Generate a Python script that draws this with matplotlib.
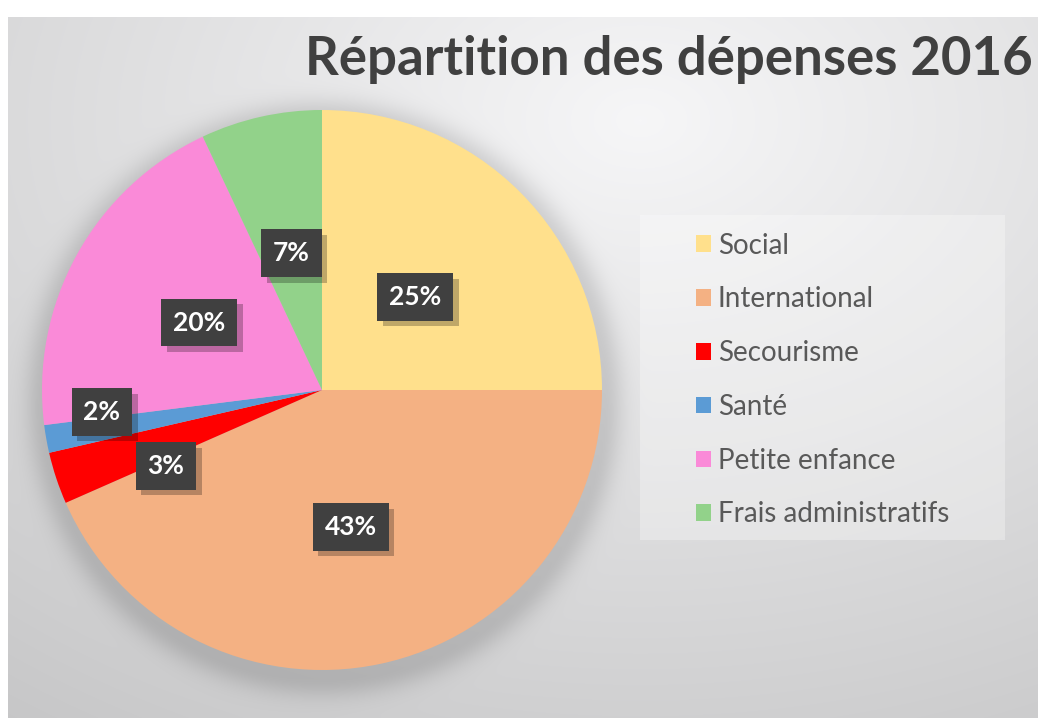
import numpy as np
import matplotlib
matplotlib.use("Agg")
import matplotlib.pyplot as plt
from matplotlib import patheffects as pe
from matplotlib.patches import Rectangle

# ---- data ----
title = "Répartition des dépenses 2016"
categories = ["Social", "International", "Secourisme", "Santé",
              "Petite enfance", "Frais administratifs"]
values = [25, 43.4, 3, 1.6, 20, 7]
colors = ["#FFE08C", "#F4B183", "#FF0000", "#5B9BD5", "#FA8AD8", "#92D28A"]

# label placement styling (fraction of radius, angular shift in degrees)
label_dist = [0.47, 0.5, 0.62, 0.79, 0.5, 0.5]
label_shift = [0, 0, 7.6, -4.4, 0, 0]

W, H = 1038, 718
FONT = "Lato"
fig = plt.figure(figsize=(W / 100, H / 100), dpi=100)
fig.patch.set_facecolor("white")

# pie geometry in pixels (layout)
cx, cy, R = 322, 390, 280

# ---- background gradient with soft pie shadow ----
bg = fig.add_axes([0, 0, 1, 1], zorder=0)
bg.axis("off")
yy, xx = np.mgrid[0:H, 0:W]
d = np.hypot((xx - 640) / W, (yy - 120) / H)
val = 0.965 - 0.18 * d
dist = np.hypot(xx - (cx + 2), yy - (cy + 8))
darken = 0.12 * np.exp(-np.clip(dist - R, 0, None) ** 2 / (2 * 14 ** 2))
val = np.clip(val - darken, 0, 1)
val[:17, :] = 1.0
val[:, :8] = 1.0
img = np.dstack([val, val, val * 1.005])
img = np.clip(img, 0, 1)
bg.imshow(img, extent=[0, W, H, 0], aspect="auto", interpolation="bilinear")
bg.set_xlim(0, W)
bg.set_ylim(H, 0)

# ---- pie ----
ax = fig.add_axes([(cx - R) / W, (H - cy - R) / H, 2 * R / W, 2 * R / H], zorder=2)
wedges, texts, autotexts = ax.pie(
    values, colors=colors, startangle=90, counterclock=False,
    autopct=lambda p: f"{p:.0f}%", pctdistance=0.5,
    wedgeprops=dict(linewidth=0),
    textprops=dict(color="white", fontsize=19, fontweight="bold", family=FONT),
)
ax.set_xlim(-1, 1)
ax.set_ylim(-1, 1)
ax.set_aspect("equal")

for w, t, dd, sh in zip(wedges, autotexts, label_dist, label_shift):
    ang = np.deg2rad((w.theta1 + w.theta2) / 2 + sh)
    t.set_position((dd * np.cos(ang), dd * np.sin(ang)))
    t.set_ha("center")
    t.set_va("center")
    t.set_bbox(dict(boxstyle="square,pad=0.45", fc="#404040", ec="none"))
    t.get_bbox_patch().set_path_effects([
        pe.withSimplePatchShadow(offset=(4, -4), shadow_rgbFace="black", alpha=0.25),
        pe.Normal()])

# ---- title ----
fig.text(669 / W, 1 - 60 / H, title, ha="center", va="center",
         fontsize=38, fontweight="bold", color="#404040", family=FONT)

# ---- legend ----
fig.patches.append(Rectangle((640 / W, 1 - 540 / H), 365 / W, 325 / H,
                             transform=fig.transFigure, fc="white", alpha=0.3,
                             ec="none", zorder=1))
leg = fig.legend(wedges, categories, loc="center left",
                 bbox_to_anchor=(696 / W, 1 - 380 / H), frameon=False,
                 prop=dict(family=FONT, size=20), labelcolor="#595959",
                 handlelength=0.54, handleheight=0.54, handletextpad=0.24,
                 labelspacing=1.0, borderpad=0, borderaxespad=0)

fig.savefig("out.png", dpi=100)
